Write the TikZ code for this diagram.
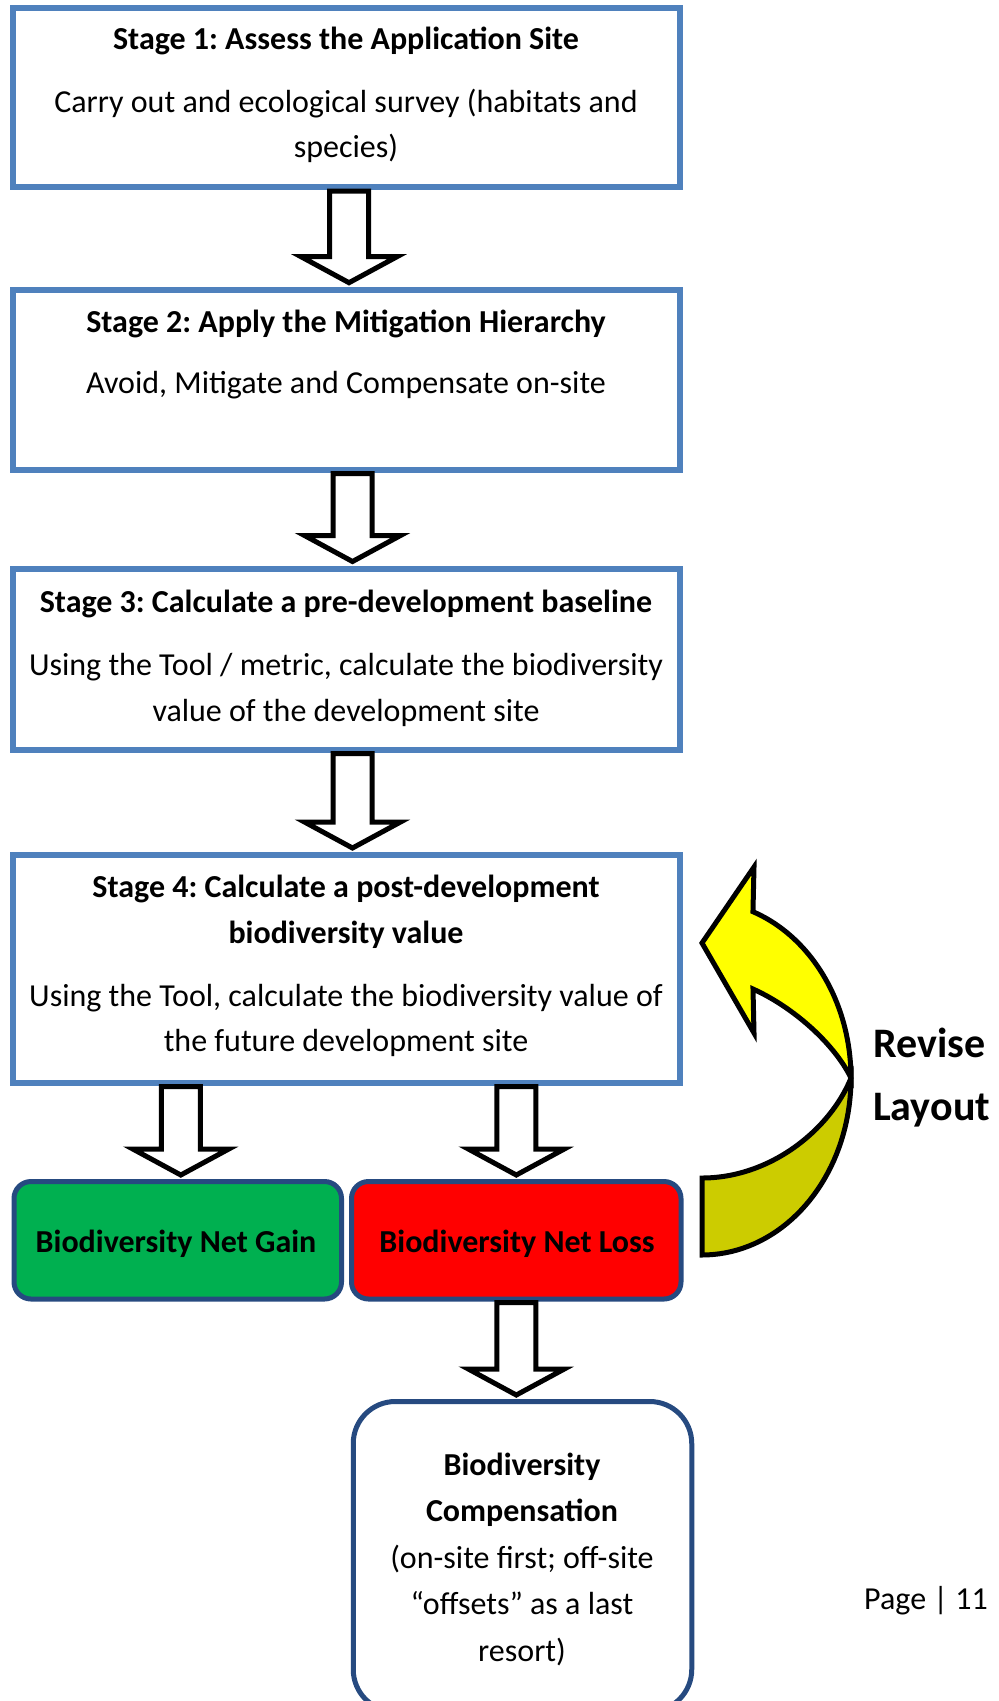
\documentclass[tikz,border=0pt]{standalone}
\usepackage{fontspec}
\setmainfont{Carlito}
\frenchspacing
\usetikzlibrary{calc}
\definecolor{stageblue}{HTML}{4F81BD}
\definecolor{shapeblue}{HTML}{264A80}
\definecolor{netgreen}{HTML}{00B050}
\definecolor{netred}{HTML}{FF0000}
\definecolor{arrowyellow}{HTML}{FFFF00}
\definecolor{arrowdark}{HTML}{CCCC00}
\tikzset{
  stagebox/.style={draw=stageblue, line width=6pt, fill=white, rectangle, inner sep=0pt},
  roundbox/.style={draw=shapeblue, line width=5pt, rectangle, rounded corners=17pt, inner sep=0pt},
  txt/.style={anchor=base, inner sep=0pt, font=\fontsize{32}{45.6}\selectfont},
  btxt/.style={anchor=base, inner sep=0pt, font=\fontsize{32}{45.6}\selectfont\bfseries},
  bigtxt/.style={anchor=base west, inner sep=0pt, font=\fontsize{42}{63}\selectfont\bfseries},
  blockarrow/.style={draw=black, line width=5pt, fill=white, line join=miter},
  curvedarrow/.style={draw=black, line width=5pt, line join=miter}
}
\newcommand\hollowarrow[3]{%
  \draw[blockarrow] let \p1=(#1.south), \p2=(#2.north) in
    ({(#3-19.5)*1pt},{\y1-1pt}) -- ({(#3-19.5)*1pt},{\y2+30pt}) --
    ({(#3-48)*1pt},{\y2+30pt}) -- ({#3*1pt},{\y2+4pt}) --
    ({(#3+48)*1pt},{\y2+30pt}) -- ({(#3+19.5)*1pt},{\y2+30pt}) --
    ({(#3+19.5)*1pt},{\y1-1pt}) -- cycle;}
\begin{document}
\begin{tikzpicture}[x=1pt,y=-1pt]
\useasboundingbox (0,0) rectangle (999,1701);
\clip (0,0) rectangle (999,1701);
% stage boxes
\node[stagebox, minimum width=667.3pt, minimum height=179pt] (s1) at (346.7,97.5) {};
\node[stagebox, minimum width=667.3pt, minimum height=180pt] (s2) at (346.7,379.7) {};
\node[stagebox, minimum width=667.3pt, minimum height=181pt] (s3) at (346.7,659) {};
\node[stagebox, minimum width=667.3pt, minimum height=227.5pt] (s4) at (346.7,968.75) {};
% outcome boxes
\node[roundbox, fill=netgreen, minimum width=327.5pt, minimum height=117.5pt] (gain) at (177.75,1240.25) {};
\node[roundbox, fill=netred, minimum width=329.5pt, minimum height=117.5pt] (loss) at (516.25,1240.25) {};
\node[roundbox, fill=white, rounded corners=42pt, minimum width=338.5pt, minimum height=310pt] (comp) at (522.5,1556.5) {};
% texts
\node[btxt] (s1a) at (346,49) {Stage 1: Assess the Application Site};
\node[txt] (s1b) at (346,112) {Carry out and ecological survey (habitats and};
\node[txt] (s1c) at (346,157.5) {species)};
\node[btxt] (s2a) at (346,332) {Stage 2: Apply the Mitigation Hierarchy};
\node[txt] (s2b) at (346,393) {Avoid, Mitigate and Compensate on-site};
\node[btxt] (s3a) at (346,612) {Stage 3: Calculate a pre-development baseline};
\node[txt] (s3b) at (346,675) {Using the Tool / metric, calculate the biodiversity};
\node[txt] (s3c) at (346,721) {value of the development site};
\node[btxt] (s4a) at (346,897) {Stage 4: Calculate a post-development};
\node[btxt] (s4b) at (346,943) {biodiversity value};
\node[txt] (s4c) at (346,1006) {Using the Tool, calculate the biodiversity value of};
\node[txt] (s4d) at (346,1051) {the future development site};
\node[btxt] (gaint) at (176,1252) {Biodiversity Net Gain};
\node[btxt] (losst) at (517,1252) {Biodiversity Net Loss};
\node[btxt] (c1) at (522,1475.5) {Biodiversity};
\node[btxt] (c2) at (522,1521) {Compensation};
\node[txt] (c3) at (522,1568.5) {(on-site first; off-site};
\node[txt] (c4) at (522,1614) {“offsets” as a last};
\node[txt] (c5) at (522,1661) {resort)};
\node[bigtxt] (rev) at (873,1057) {Revise};
\node[bigtxt] (lay) at (873,1120) {Layout};
\node[txt] (page) at (926,1609) {Page | 11};
% block arrows
\hollowarrow{s1}{s2}{349}
\hollowarrow{s2}{s3}{352.5}
\hollowarrow{s3}{s4}{352.5}
\hollowarrow{s4}{gain}{180.8}
\hollowarrow{s4}{loss}{516.3}
\hollowarrow{loss}{comp}{516.3}
% curved arrow (revise layout)
\coordinate (cx) at (851,1078);
\coordinate (cb) at (702,1255);
\coordinate (cbi) at (702,1178);
\coordinate (co1) at (754,912);
\coordinate (ci1) at (753,989);
\coordinate (ch1) at (754,867);
\coordinate (ch2) at (754,1033);
\coordinate (ctip) at (702,943);
\filldraw[curvedarrow, fill=arrowdark]
  plot[domain=0:-90, samples=40] ({702+149*cos(\x)},{1078-177*sin(\x)})
  -- (cbi) .. controls (770,1178) and (830,1130) .. (cx) -- cycle;
\filldraw[curvedarrow, fill=arrowyellow]
  plot[domain=70:0, samples=40] ({702+149*cos(\x)},{1078-177*sin(\x)})
  .. controls (835,1045) and (795,1008) .. (ci1)
  -- (ch2) -- (ctip) -- (ch1) -- cycle;
\end{tikzpicture}
\end{document}
